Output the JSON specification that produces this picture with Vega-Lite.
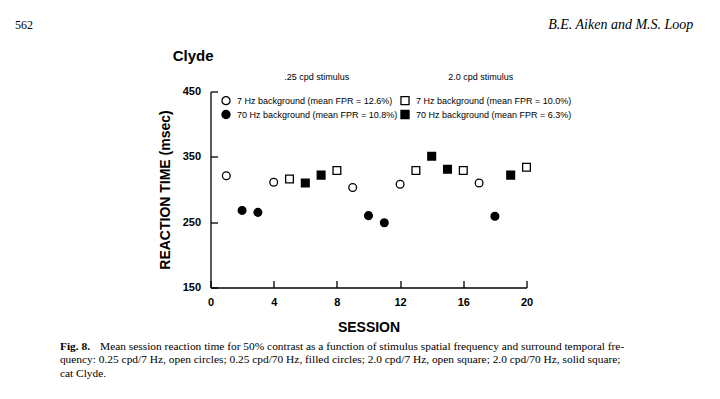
{
  "$schema": "https://vega.github.io/schema/vega-lite/v6.json",
  "width": 316,
  "height": 196,
  "autosize": {"type": "none"},
  "padding": {"left": 210.5, "top": 91.5, "right": 193.5, "bottom": 111.5},
  "background": "white",
  "config": {
    "view": {"stroke": null},
    "font": "Liberation Sans",
    "axis": {
      "grid": false,
      "domainColor": "black",
      "domainWidth": 1.3,
      "tickColor": "black",
      "tickWidth": 1.3,
      "tickSize": -7,
      "labelFont": "Liberation Sans",
      "labelFontWeight": "bold",
      "labelFontSize": 11,
      "labelColor": "black",
      "labelFlush": false,
      "titleFont": "Liberation Sans",
      "titleFontWeight": "bold",
      "titleFontSize": 14,
      "titleColor": "black"
    },
    "legend": {
      "orient": "none",
      "legendX": 10.5,
      "legendY": 4,
      "columns": 2,
      "columnPadding": 0,
      "rowPadding": 0,
      "labelFont": "Liberation Sans",
      "labelFontSize": 9,
      "labelColor": "black",
      "labelOffset": 6,
      "labelLimit": 400,
      "symbolSize": 65,
      "symbolStrokeColor": "black",
      "symbolStrokeWidth": 1.3,
      "symbolOpacity": 1,
      "padding": 0
    }
  },
  "encoding": {
    "x": {
      "field": "session",
      "type": "quantitative",
      "scale": {"domain": [0, 20], "nice": false, "zero": false},
      "axis": {"values": [0, 4, 8, 12, 16, 20], "title": "SESSION", "labelPadding": 16, "titlePadding": 13}
    },
    "y": {
      "field": "rt",
      "type": "quantitative",
      "scale": {"domain": [150, 450], "nice": false, "zero": false},
      "axis": {"values": [150, 250, 350, 450], "title": "REACTION TIME (msec)", "labelPadding": 17, "titlePadding": 10}
    }
  },
  "layer": [
    {
      "data": {
        "values": [
          {"session": 1, "rt": 321, "cond": "7 Hz background (mean FPR = 12.6%)"},
          {"session": 2, "rt": 268, "cond": "70 Hz background (mean FPR = 10.8%)"},
          {"session": 3, "rt": 265, "cond": "70 Hz background (mean FPR = 10.8%)"},
          {"session": 4, "rt": 311, "cond": "7 Hz background (mean FPR = 12.6%)"},
          {"session": 5, "rt": 316, "cond": "7 Hz background (mean FPR = 10.0%)"},
          {"session": 6, "rt": 310, "cond": "70 Hz background (mean FPR = 6.3%)"},
          {"session": 7, "rt": 322, "cond": "70 Hz background (mean FPR = 6.3%)"},
          {"session": 8, "rt": 329, "cond": "7 Hz background (mean FPR = 10.0%)"},
          {"session": 9, "rt": 303, "cond": "7 Hz background (mean FPR = 12.6%)"},
          {"session": 10, "rt": 260, "cond": "70 Hz background (mean FPR = 10.8%)"},
          {"session": 11, "rt": 249, "cond": "70 Hz background (mean FPR = 10.8%)"},
          {"session": 12, "rt": 308, "cond": "7 Hz background (mean FPR = 12.6%)"},
          {"session": 13, "rt": 329, "cond": "7 Hz background (mean FPR = 10.0%)"},
          {"session": 14, "rt": 351, "cond": "70 Hz background (mean FPR = 6.3%)"},
          {"session": 15, "rt": 331, "cond": "70 Hz background (mean FPR = 6.3%)"},
          {"session": 16, "rt": 329, "cond": "7 Hz background (mean FPR = 10.0%)"},
          {"session": 17, "rt": 310, "cond": "7 Hz background (mean FPR = 12.6%)"},
          {"session": 18, "rt": 259, "cond": "70 Hz background (mean FPR = 10.8%)"},
          {"session": 19, "rt": 322, "cond": "70 Hz background (mean FPR = 6.3%)"},
          {"session": 20, "rt": 334, "cond": "7 Hz background (mean FPR = 10.0%)"}
        ]
      },
      "mark": {"type": "point", "filled": true, "stroke": "black", "strokeWidth": 1.3, "size": 60, "opacity": 1},
      "encoding": {
        "fill": {
          "field": "cond",
          "type": "nominal",
          "title": null,
          "scale": {
            "domain": ["7 Hz background (mean FPR = 12.6%)", "70 Hz background (mean FPR = 10.8%)", "7 Hz background (mean FPR = 10.0%)", "70 Hz background (mean FPR = 6.3%)"],
            "range": ["white", "black", "white", "black"]
          },
          "legend": {
            "encode": {"symbols": {"update": {"stroke": {"value": "black"}, "strokeWidth": {"value": 1.3}}}}
          }
        },
        "shape": {
          "field": "cond",
          "type": "nominal",
          "title": null,
          "scale": {
            "domain": ["7 Hz background (mean FPR = 12.6%)", "70 Hz background (mean FPR = 10.8%)", "7 Hz background (mean FPR = 10.0%)", "70 Hz background (mean FPR = 6.3%)"],
            "range": ["circle", "circle", "square", "square"]
          },
          "legend": {
            "encode": {"symbols": {"update": {"stroke": {"value": "black"}, "strokeWidth": {"value": 1.3}}}}
          }
        }
      }
    },
    {
      "data": {"values": [
        {"session": 6.72, "rt": 472.7, "label": ".25 cpd stimulus"},
        {"session": 17.11, "rt": 472.7, "label": "2.0 cpd stimulus"}
      ]},
      "mark": {"type": "text", "font": "Liberation Sans", "fontSize": 9, "align": "center", "baseline": "middle", "color": "black"},
      "encoding": {"text": {"field": "label"}}
    },
    {
      "data": {"values": [
        {"session": -2.39, "rt": 504.8, "label": "Clyde"}
      ]},
      "mark": {"type": "text", "font": "Liberation Sans", "fontSize": 15, "fontWeight": "bold", "align": "left", "baseline": "middle", "color": "black"},
      "encoding": {"text": {"field": "label"}}
    },
    {
      "data": {"values": [
        {"session": -12.37, "rt": 551.8, "label": "562"}
      ]},
      "mark": {"type": "text", "font": "Liberation Serif", "fontSize": 12, "align": "left", "baseline": "middle", "color": "black"},
      "encoding": {"text": {"field": "label"}}
    },
    {
      "data": {"values": [
        {"session": 30.56, "rt": 551.8, "label": "B.E. Aiken and M.S. Loop"}
      ]},
      "mark": {"type": "text", "font": "Liberation Serif", "fontSize": 14, "fontStyle": "italic", "align": "right", "baseline": "middle", "color": "black"},
      "encoding": {"text": {"field": "label"}}
    },
    {
      "data": {"values": [
        {"session": -9.53, "rt": 58.9, "label": "Fig. 8."}
      ]},
      "mark": {"type": "text", "font": "Liberation Serif", "fontSize": 11.4, "fontWeight": "bold", "align": "left", "baseline": "middle", "color": "black"},
      "encoding": {"text": {"field": "label"}}
    },
    {
      "data": {"values": [
        {"session": -6.99, "rt": 58.9, "label": "Mean session reaction time for 50% contrast as a function of stimulus spatial frequency and surround temporal fre-"},
        {"session": -9.53, "rt": 38.3, "label": "quency: 0.25 cpd/7 Hz, open circles; 0.25 cpd/70 Hz, filled circles; 2.0 cpd/7 Hz, open square; 2.0 cpd/70 Hz, solid square;"},
        {"session": -9.53, "rt": 17.6, "label": "cat Clyde."}
      ]},
      "mark": {"type": "text", "font": "Liberation Serif", "fontSize": 11.4, "align": "left", "baseline": "middle", "color": "black"},
      "encoding": {"text": {"field": "label"}}
    }
  ]
}
